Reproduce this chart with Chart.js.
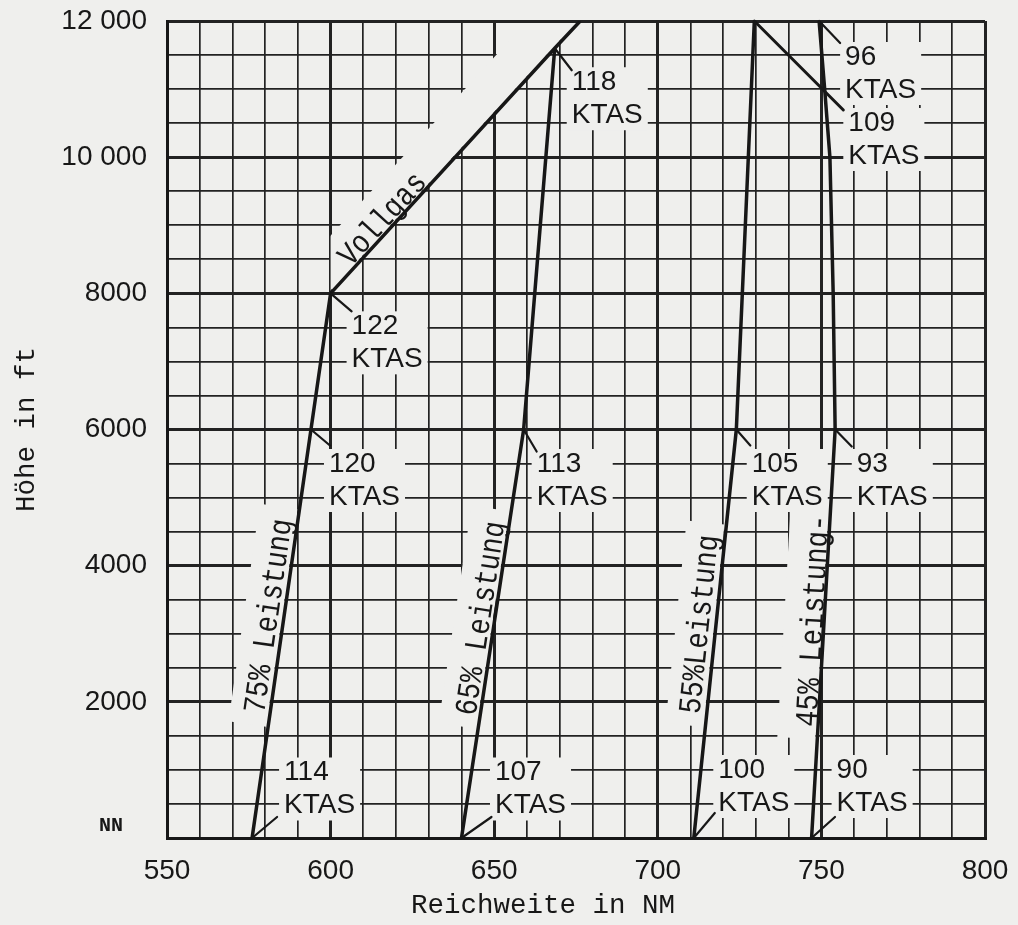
<!DOCTYPE html>
<html>
<head>
<meta charset="utf-8">
<script src="https://cdn.jsdelivr.net/npm/chart.js@4.4.1/dist/chart.umd.min.js"></script>
<style>
  html, body { margin: 0; padding: 0; background: #efefed; }
</style>
</head>
<body>
<canvas id="graf_reichweite" width="1018" height="925"></canvas>
<script>
// axis ticks
var xTicks = [550, 600, 650, 700, 750, 800];
var yTicks = [0, 2000, 4000, 6000, 8000, 10000, 12000];
var yTickLabels = ['NN', '2000', '4000', '6000', '8000', '10 000', '12 000'];

// Reichweite (NM) against Höhe (ft), one pair per power setting
var alt75 = [0, 6000, 8000];
var range75 = [576, 594, 600];
var altVollgas = [8000, 11600, 12000];
var rangeVollgas = [600, 668.5, 676.3];
var alt65 = [0, 6000, 11600];
var range65 = [640, 659, 668.5];
var alt55 = [0, 6000, 12000];
var range55 = [711, 724, 729.5];
var alt45 = [0, 6000, 8000, 10000, 11000, 12000];
var range45 = [747, 754.2, 753.6, 752.6, 751, 749.3];

// true airspeed at the marked heights
var ktasAlt75 = [0, 6000, 8000];
var ktas75 = [114, 120, 122];
var ktasAlt65 = [0, 6000, 11600];
var ktas65 = [107, 113, 118];
var ktasAlt55 = [0, 6000, 12000];
var ktas55 = [100, 105, 109];
var ktasAlt45 = [0, 6000, 12000];
var ktas45 = [90, 93, 96];

var BG = '#efefed';
var INK = '#171717';
var SANS = '28px "Liberation Sans", Arial, sans-serif';
var MONO = '"Liberation Mono", "Courier New", monospace';

// leader end dx/dy, text dx/dy (pixels from the marked point), leader width
var ktasSets = [
  { xs: range75, ys: alt75, alts: ktasAlt75, vals: ktas75,
    layout: [[25, -21, 32, -65.5], [19, 16, 18, 34.5], [21, 18, 21, 33]] },
  { xs: range65, ys: alt65, alts: ktasAlt65, vals: ktas65,
    layout: [[30, -21, 33.5, -65.5], [13, 22, 13, 34.5], [17, 22, 17, 34]] },
  { xs: range55, ys: alt55, alts: ktasAlt55, vals: ktas55,
    layout: [[21, -25, 24.5, -68], [14, 16, 15.4, 34.5], [89, 89, 94, 102, 3]] },
  { xs: range45, ys: alt45, alts: ktasAlt45, vals: ktas45,
    layout: [[23.4, -21, 25, -68], [16.6, 17, 21.6, 34.5], [21, 22, 26, 36]] }
];

var rotatedLabels = [
  { text: 'Vollgas', xs: rangeVollgas, ys: altVollgas, full: true, t: 0.243, off: 11 },
  { text: '75% Leistung', xs: range75, ys: alt75, t: 0.538, off: 14.4 },
  { text: '65% Leistung', xs: range65, ys: alt65, t: 0.533, off: 13 },
  { text: '55%Leistung', xs: range55, ys: alt55, t: 0.519, off: 15.5 },
  { text: '45% Leistung-', xs: range45, ys: alt45, t: 0.53, off: 10 }
];

function pairs(xs, ys) {
  return xs.map(function (x, i) { return { x: x, y: ys[i] }; });
}

function pt(chart, x, y) {
  return { x: chart.scales.x.getPixelForValue(x), y: chart.scales.y.getPixelForValue(y) };
}

function seg(chart, xs, ys, i, j) {
  var a = pt(chart, xs[i], ys[i]);
  var b = pt(chart, xs[j], ys[j]);
  var dx = b.x - a.x, dy = b.y - a.y, len = Math.hypot(dx, dy);
  return { a: a, len: len, ux: dx / len, uy: dy / len, ang: Math.atan2(dy, dx) };
}

// labels may overhang the axis ends; keep the plot box where it is
function noOverhang(scale) {
  scale.paddingTop = 0;
  scale.paddingBottom = 0;
  scale.paddingLeft = 0;
  scale.paddingRight = 0;
}

var annotate = {
  id: 'annotate',
  beforeDatasetsDraw: function (chart) {
    var ctx = chart.ctx, area = chart.chartArea;
    ctx.save();
    ctx.beginPath();
    ctx.rect(area.left + 2, area.top + 2, area.right - area.left - 4, area.bottom - area.top - 4);
    ctx.clip();

    // rotated texts along the lines, with the blank strip behind them
    rotatedLabels.forEach(function (l) {
      var s = seg(chart, l.xs, l.ys, 0, l.full ? l.xs.length - 1 : 1);
      ctx.save();
      if (l.full) {
        ctx.save();
        ctx.beginPath();
        ctx.rect(s.a.x, area.top, area.right - s.a.x, area.bottom - area.top);
        ctx.clip();
        ctx.translate(s.a.x, s.a.y);
        ctx.rotate(s.ang);
        ctx.fillStyle = BG;
        ctx.fillRect(0, -39, s.len + 60, 37);
        ctx.restore();
      }
      ctx.translate(s.a.x + s.ux * s.len * l.t, s.a.y + s.uy * s.len * l.t);
      ctx.rotate(s.ang);
      ctx.font = '32px ' + MONO;
      var w = ctx.measureText(l.text).width * 0.85;
      if (!l.full) {
        ctx.fillStyle = BG;
        ctx.fillRect(-w / 2 - 12, -40, w + 24, 38);
      }
      ctx.scale(0.85, 1);
      ctx.fillStyle = INK;
      ctx.textAlign = 'center';
      ctx.textBaseline = 'middle';
      ctx.fillText(l.text, 0, -l.off);
      ctx.restore();
    });

    // KTAS labels
    ctx.font = SANS;
    ctx.textAlign = 'left';
    ctx.textBaseline = 'middle';
    ktasSets.forEach(function (s) {
      s.alts.forEach(function (alt, k) {
        var L = s.layout[k];
        var p = pt(chart, s.xs[s.ys.indexOf(alt)], alt);
        var num = String(s.vals[k]);
        var w = Math.max(ctx.measureText(num).width, ctx.measureText('KTAS').width);
        var lx = p.x + L[2], ly = p.y + L[3];
        ctx.fillStyle = BG;
        ctx.fillRect(lx - 5, ly - 15, w + 10, 63);
        ctx.fillStyle = INK;
        ctx.fillText(num, lx, ly);
        ctx.fillText('KTAS', lx, ly + 33);
      });
    });
    ctx.restore();
  },
  afterDatasetsDraw: function (chart) {
    var ctx = chart.ctx;
    ctx.save();
    ctx.strokeStyle = INK;
    ctx.lineCap = 'round';
    ktasSets.forEach(function (s) {
      s.alts.forEach(function (alt, k) {
        var L = s.layout[k];
        var p = pt(chart, s.xs[s.ys.indexOf(alt)], alt);
        ctx.lineWidth = L[4] || 2.2;
        ctx.beginPath();
        ctx.moveTo(p.x, p.y);
        ctx.lineTo(p.x + L[0], p.y + L[1]);
        ctx.stroke();
      });
    });
    ctx.restore();
  }
};

var lineStyle = {
  showLine: true,
  borderColor: INK,
  borderWidth: 3.5,
  pointRadius: 0,
  tension: 0,
  fill: false
};

function ds(label, xs, ys) {
  return Object.assign({ label: label, data: pairs(xs, ys) }, lineStyle);
}

var ctx = document.getElementById('graf_reichweite').getContext('2d');
var chart = new Chart(ctx, {
  type: 'scatter',
  data: {
    datasets: [
      ds('75% Leistung', range75, alt75),
      ds('Vollgas', rangeVollgas, altVollgas),
      ds('65% Leistung', range65, alt65),
      ds('55% Leistung', range55, alt55),
      ds('45% Leistung', range45, alt45)
    ]
  },
  plugins: [annotate],
  options: {
    responsive: false,
    animation: false,
    devicePixelRatio: 1,
    layout: { padding: { top: 21, right: 33, left: 0, bottom: 0 } },
    plugins: { legend: { display: false }, tooltip: { enabled: false } },
    scales: {
      x: {
        type: 'linear',
        min: 550,
        max: 800,
        afterFit: function (scale) { scale.height = 87; noOverhang(scale); },
        ticks: {
          stepSize: 10,
          autoSkip: false,
          maxRotation: 0,
          padding: 16,
          color: INK,
          font: { family: '"Liberation Sans", Arial, sans-serif', size: 28 },
          callback: function (v) { return xTicks.indexOf(v) >= 0 ? String(v) : ''; }
        },
        grid: {
          color: '#222',
          drawTicks: false,
          lineWidth: function (c) { return c.tick && c.tick.value % 50 === 0 ? 3 : 1.7; }
        },
        border: { display: true, color: INK, width: 3 },
        title: {
          display: true,
          text: 'Reichweite in NM    ',
          color: INK,
          font: { family: MONO, size: 27.5 },
          padding: { top: 0, bottom: 3 }
        }
      },
      y: {
        type: 'linear',
        min: 0,
        max: 12000,
        afterFit: function (scale) { scale.width = 167; noOverhang(scale); },
        ticks: {
          stepSize: 500,
          autoSkip: false,
          padding: 20,
          color: INK,
          font: function (c) {
            if (c.tick && c.tick.value === 0) {
              return { family: MONO, size: 20, weight: 'bold' };
            }
            return { family: '"Liberation Sans", Arial, sans-serif', size: 28 };
          },
          callback: function (v) {
            var i = yTicks.indexOf(v);
            if (i < 0) return '';
            if (i === 0) return [yTickLabels[0] + '  ', ''];
            return yTickLabels[i];
          }
        },
        grid: {
          color: '#222',
          drawTicks: false,
          lineWidth: function (c) { return c.tick && c.tick.value % 2000 === 0 ? 3 : 1.7; }
        },
        border: { display: true, color: INK, width: 3 },
        title: {
          display: true,
          text: 'Höhe in ft',
          color: INK,
          font: { family: MONO, size: 27.5 },
          padding: { top: 10, bottom: 0 }
        }
      }
    }
  }
});
</script>
</body>
</html>
